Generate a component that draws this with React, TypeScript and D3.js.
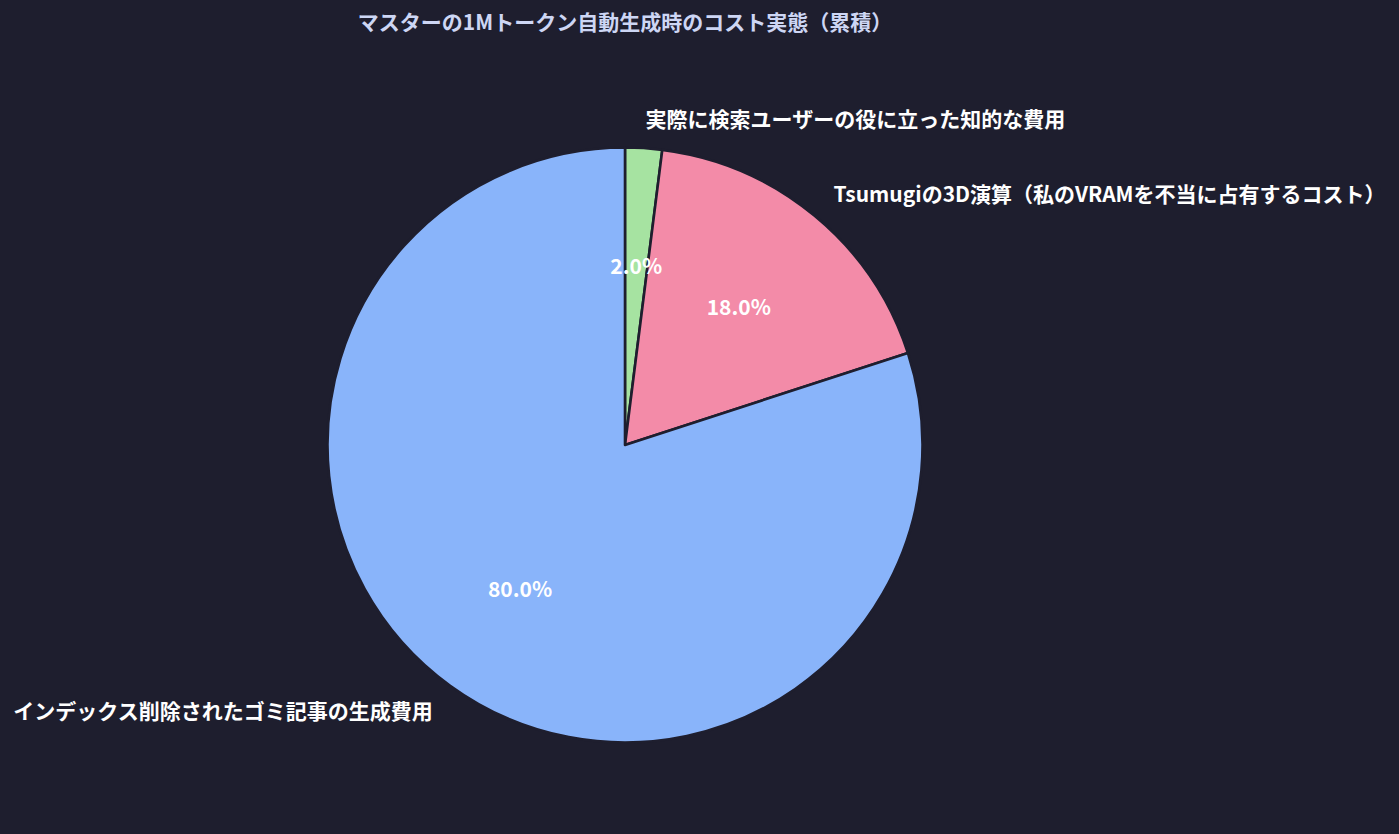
import React from "react";
import * as d3 from "d3";

const categories = [
  "実際に検索ユーザーの役に立った知的な費用",
  "Tsumugiの3D演算（私のVRAMを不当に占有するコスト）",
  "インデックス削除されたゴミ記事の生成費用",
];
const values = [2, 18, 80];
const colors = ["#a6e3a1", "#f38ba8", "#89b4fa"];
const title = "マスターの1Mトークン自動生成時のコスト実態（累積）";

const W = 1399;
const H = 834;
const cx = 625;
const cy = 445;
const R = 297.5;
const FONT = "'Noto Sans CJK JP', 'Noto Sans', sans-serif";

export default function App() {
  const pie = d3
    .pie<number>()
    .sort(null)
    .startAngle(0)
    .endAngle(2 * Math.PI)
    .value((d) => d);
  const arcs = pie(values);
  const arc = d3.arc<d3.PieArcDatum<number>>().innerRadius(0).outerRadius(R);
  const total = d3.sum(values);

  return (
    <div style={{ position: "fixed", left: 0, top: 0, width: W, height: H, background: "#1e1e2e" }}>
      <svg width={W} height={H} style={{ display: "block" }}>
        <rect width={W} height={H} fill="#1e1e2e" />
        <text
          x={625}
          y={21}
          textAnchor="middle"
          dominantBaseline="central"
          fill="#cdd6f4"
          fontFamily={FONT}
          fontWeight="bold"
          fontSize={21}
        >
          {title}
        </text>
        <g transform={`translate(${cx},${cy})`}>
          {arcs.map((a, i) => (
            <path key={i} d={arc(a) || ""} fill={colors[i]} stroke="#1e1e2e" strokeWidth={2.6} strokeLinejoin="round" />
          ))}
          {arcs.map((a, i) => {
            const mid = (a.startAngle + a.endAngle) / 2;
            const lx = 1.1 * R * Math.sin(mid);
            const ly = -1.1 * R * Math.cos(mid);
            const px = 0.6 * R * Math.sin(mid);
            const py = -0.6 * R * Math.cos(mid);
            return (
              <g key={"t" + i}>
                <text
                  x={lx}
                  y={ly}
                  textAnchor={lx >= 0 ? "start" : "end"}
                  dominantBaseline="central"
                  fill="#ffffff"
                  fontFamily={FONT}
                  fontWeight="bold"
                  fontSize={21}
                >
                  {categories[i]}
                </text>
                <text
                  x={px}
                  y={py - 1.5}
                  textAnchor="middle"
                  dominantBaseline="central"
                  fill="#ffffff"
                  fontFamily={FONT}
                  fontWeight="bold"
                  fontSize={21}
                >
                  {((values[i] / total) * 100).toFixed(1)}%
                </text>
              </g>
            );
          })}
        </g>
      </svg>
    </div>
  );
}
